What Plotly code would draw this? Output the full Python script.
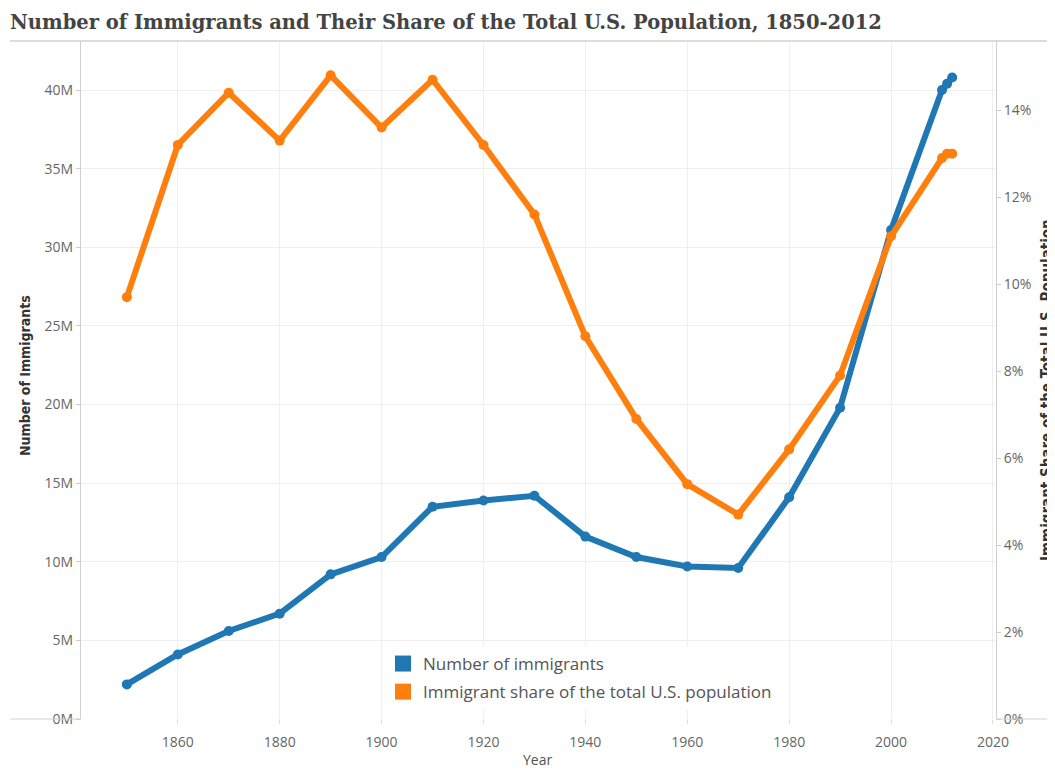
import plotly.graph_objects as go

# ---- data ----
years = [1850, 1860, 1870, 1880, 1890, 1900, 1910, 1920, 1930, 1940,
         1950, 1960, 1970, 1980, 1990, 2000, 2010, 2011, 2012]
immigrants_m = [2.2, 4.1, 5.6, 6.7, 9.2, 10.3, 13.5, 13.9, 14.2, 11.6,
                10.3, 9.7, 9.6, 14.1, 19.8, 31.1, 40.0, 40.4, 40.8]
share_pct = [9.7, 13.2, 14.4, 13.3, 14.8, 13.6, 14.7, 13.2, 11.6, 8.8,
             6.9, 5.4, 4.7, 6.2, 7.9, 11.1, 12.9, 13.0, 13.0]

left_tick_vals = [0, 5, 10, 15, 20, 25, 30, 35, 40]
left_tick_labels = ["0M", "5M", "10M", "15M", "20M", "25M", "30M", "35M", "40M"]
right_tick_vals = [0, 2, 4, 6, 8, 10, 12, 14]
right_tick_labels = ["0%", "2%", "4%", "6%", "8%", "10%", "12%", "14%"]
x_tick_vals = [1860, 1880, 1900, 1920, 1940, 1960, 1980, 2000, 2020]

series_names = ["Number of immigrants", "Immigrant share of the total U.S. population"]
title_text = "Number of Immigrants and Their Share of the Total U.S. Population, 1850-2012"

BLUE = "#1f77b4"
ORANGE = "#ff7f0e"

# ---- geometry (page pixels; the page body has an 8px margin) ----
OFF = 8
PAGE_W, PAGE_H = 1055, 769
W, H = PAGE_W - OFF, PAGE_H - OFF
PLOT_L, PLOT_R, PLOT_T, PLOT_B = 81, 996, 41, 719
L, R, T, B = PLOT_L - OFF, PAGE_W - PLOT_R, PLOT_T - OFF, PAGE_H - PLOT_B
pw = PLOT_R - PLOT_L
ph = PLOT_B - PLOT_T


def px_x(x):
    return (x - PLOT_L) / pw


def px_y(y):
    return (PLOT_B - y) / ph


fig = go.Figure()
fig.add_trace(go.Scatter(
    x=years, y=immigrants_m, mode="lines+markers", name=series_names[0],
    line=dict(color=BLUE, width=6), marker=dict(color=BLUE, size=10),
    showlegend=False, yaxis="y"))
fig.add_trace(go.Scatter(
    x=years, y=share_pct, mode="lines+markers", name=series_names[1],
    line=dict(color=ORANGE, width=6), marker=dict(color=ORANGE, size=10),
    showlegend=False, yaxis="y2"))

# legend entries as coloured squares
for i, (name, col) in enumerate(zip(series_names, [BLUE, ORANGE])):
    fig.add_trace(go.Scatter(
        x=[None], y=[None], mode="markers", name=name, legendgroup=f"g{i}",
        marker=dict(color=col, size=16, symbol="square"), showlegend=True))

tickfont = dict(family="Open Sans, DejaVu Sans, sans-serif", size=14, color="#666")

fig.update_layout(
    width=W, height=H,
    margin=dict(l=L, r=R, t=T, b=B, autoexpand=False),
    paper_bgcolor="white", plot_bgcolor="white",
    title=dict(text=title_text, x=(10 - OFF) / W, xanchor="left", xref="container",
               y=1 - (22 - OFF) / H, yanchor="middle", yref="container",
               font=dict(family="DejaVu Serif, Georgia, serif", size=19.5, color="#444",
                         weight="bold")),
    xaxis=dict(range=[1841, 2020.6], tickvals=x_tick_vals, showgrid=True,
               gridcolor="#efefef", gridwidth=1, zeroline=False, showline=False,
               ticks="outside", ticklen=4, tickcolor="#ddd", ticklabelstandoff=6,
               tickfont=dict(family="Open Sans, DejaVu Sans, sans-serif", size=14, color="#666")),
    yaxis=dict(range=[0, 43.12], tickvals=left_tick_vals, ticktext=left_tick_labels,
               showgrid=True, gridcolor="#efefef", gridwidth=1, zeroline=False,
               showline=True, linecolor="#d0d0d0", linewidth=1,
               ticks="outside", ticklen=4, tickcolor="#ccc", tickfont=tickfont),
    yaxis2=dict(range=[0, 15.59], tickvals=right_tick_vals, ticktext=right_tick_labels,
                overlaying="y", side="right", showgrid=False, zeroline=False,
                showline=True, linecolor="#d0d0d0", linewidth=1,
                ticks="outside", ticklen=4, tickcolor="#ccc", tickfont=tickfont),
    legend=dict(x=px_x(383), y=px_y(646), xanchor="left", yanchor="top",
                bgcolor="white", borderwidth=0, tracegroupgap=3, traceorder="grouped",
                font=dict(family="Open Sans, DejaVu Sans, sans-serif", size=17, color="#555")),
    showlegend=True,
)

# axis titles
fig.add_annotation(text="<b>Number of Immigrants</b>", textangle=-90,
                   xref="paper", yref="paper", x=px_x(25), y=px_y(376),
                   showarrow=False, xanchor="center", yanchor="middle",
                   font=dict(family="DejaVu Sans Condensed, Liberation Sans Narrow, sans-serif",
                             size=14, color="#333"))
fig.add_annotation(text="<b>Immigrant Share of the Total U.S. Population</b>", textangle=-90,
                   xref="paper", yref="paper", x=px_x(1047), y=px_y(390),
                   showarrow=False, xanchor="center", yanchor="middle",
                   font=dict(family="DejaVu Sans Condensed, Liberation Sans Narrow, sans-serif",
                             size=15, color="#333"))
fig.add_annotation(text="Year", xref="paper", yref="paper", x=px_x(537), y=px_y(759),
                   showarrow=False, xanchor="center", yanchor="middle",
                   font=dict(family="Open Sans, DejaVu Sans, sans-serif", size=14, color="#555"))

# border lines (top line under title, bottom lines under axis areas)
fig.add_shape(type="line", xref="paper", yref="paper", x0=px_x(10), x1=px_x(PAGE_W),
              y0=1, y1=1, line=dict(color="#d0d0d0", width=1.5))
fig.add_shape(type="line", xref="paper", yref="paper", x0=px_x(10), x1=0,
              y0=0, y1=0, line=dict(color="#d0d0d0", width=1))
fig.add_shape(type="line", xref="paper", yref="paper", x0=1, x1=px_x(PAGE_W),
              y0=0, y1=0, line=dict(color="#d0d0d0", width=1))

fig.write_html("out.html")
